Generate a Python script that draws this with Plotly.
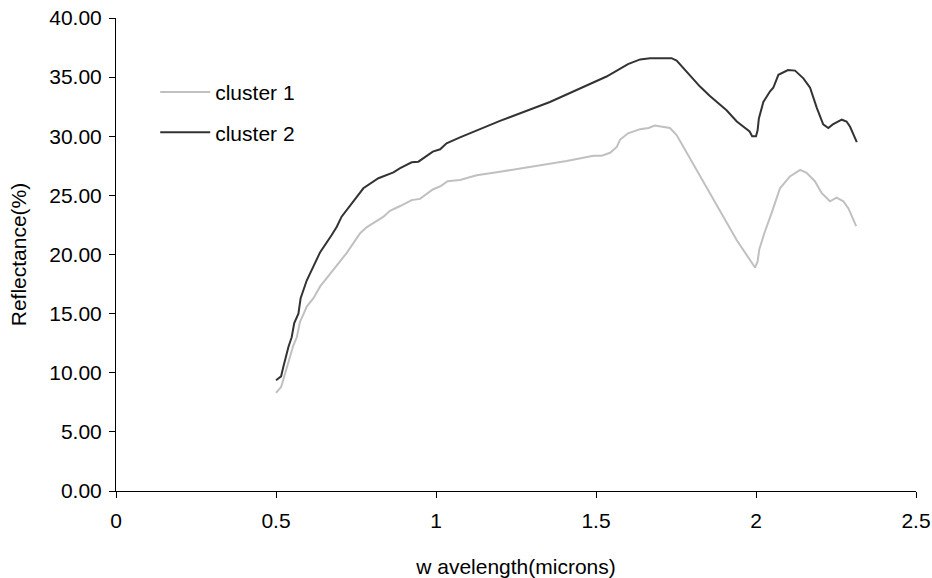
import plotly.graph_objects as go

# wavelength (microns) and reflectance (%)
c1_wl = [0.500, 0.516, 0.528, 0.542, 0.554, 0.565, 0.575, 0.585, 0.596, 0.617,
         0.638, 0.679, 0.720, 0.763, 0.783, 0.836, 0.856, 0.888, 0.924, 0.950,
         0.990, 1.016, 1.036, 1.075, 1.127, 1.200, 1.356, 1.408, 1.492, 1.518,
         1.544, 1.565, 1.575, 1.600, 1.638, 1.664, 1.684, 1.731, 1.752, 1.773,
         1.940, 1.997, 2.005, 2.010, 2.026, 2.050, 2.075, 2.106, 2.138, 2.158,
         2.184, 2.205, 2.231, 2.252, 2.273, 2.289, 2.313]
c1_refl = [8.3, 8.8, 9.9, 11.1, 12.3, 13.0, 14.3, 14.9, 15.6, 16.3,
           17.3, 18.7, 20.1, 21.8, 22.3, 23.2, 23.7, 24.1, 24.6, 24.7,
           25.5, 25.8, 26.2, 26.3, 26.7, 27.0, 27.7, 27.9, 28.35, 28.35,
           28.6, 29.1, 29.7, 30.25, 30.6, 30.7, 30.9, 30.7, 30.1, 29.1,
           21.2, 18.9, 19.4, 20.4, 21.8, 23.6, 25.6, 26.6, 27.15, 26.9,
           26.2, 25.2, 24.5, 24.8, 24.5, 23.9, 22.4]

c2_wl = [0.500, 0.516, 0.523, 0.539, 0.549, 0.557, 0.570, 0.577, 0.596, 0.617,
         0.638, 0.674, 0.690, 0.705, 0.742, 0.773, 0.820, 0.867, 0.888, 0.924,
         0.945, 0.990, 1.013, 1.033, 1.075, 1.200, 1.356, 1.429, 1.533, 1.600,
         1.638, 1.669, 1.736, 1.752, 1.825, 1.856, 1.908, 1.940, 1.980, 1.988,
         2.000, 2.005, 2.009, 2.023, 2.044, 2.054, 2.070, 2.100, 2.122, 2.148,
         2.169, 2.190, 2.210, 2.226, 2.240, 2.268, 2.283, 2.294, 2.315]
c2_refl = [9.37, 9.7, 10.5, 12.2, 13.0, 14.2, 15.0, 16.3, 17.8, 19.0,
           20.2, 21.65, 22.35, 23.2, 24.5, 25.6, 26.45, 26.95, 27.3, 27.8,
           27.85, 28.7, 28.9, 29.4, 29.9, 31.3, 32.9, 33.8, 35.05, 36.1,
           36.5, 36.6, 36.6, 36.4, 34.2, 33.4, 32.2, 31.25, 30.4, 30.0,
           30.0, 30.5, 31.5, 32.9, 33.8, 34.1, 35.2, 35.6, 35.55, 34.9,
           34.1, 32.4, 31.0, 30.7, 31.0, 31.4, 31.25, 30.8, 29.5]

x_ticks = [0, 0.5, 1, 1.5, 2, 2.5]
x_ticktext = ["0", "0.5", "1", "1.5", "2", "2.5"]
y_ticks = [0, 5, 10, 15, 20, 25, 30, 35, 40]
y_ticktext = ["0.00", "5.00", "10.00", "15.00", "20.00", "25.00", "30.00", "35.00", "40.00"]

FONT = "Liberation Sans, Arial, sans-serif"

fig = go.Figure()
fig.add_trace(go.Scatter(x=c1_wl, y=c1_refl, mode="lines", name="cluster 1",
                         legendgroup="g1",
                         line=dict(color="#c0c0c0", width=2)))
fig.add_trace(go.Scatter(x=c2_wl, y=c2_refl, mode="lines", name="cluster 2",
                         legendgroup="g2",
                         line=dict(color="#333333", width=2)))

fig.update_layout(
    width=932, height=578,
    margin=dict(l=116, r=16, t=18, b=87, autoexpand=False),
    paper_bgcolor="white", plot_bgcolor="white",
    font=dict(family=FONT, size=21, color="black"),
    showlegend=True,
    legend=dict(x=0.049, y=0.886, xanchor="left", yanchor="top",
                bgcolor="rgba(0,0,0,0)", tracegroupgap=10,
                font=dict(family=FONT, size=21, color="black"),
                itemwidth=50),
    xaxis=dict(range=[0, 2.5], tickmode="array", tickvals=x_ticks, ticktext=x_ticktext,
               showgrid=False, zeroline=False, showline=True, linecolor="#000000",
               linewidth=1, ticks="outside", ticklen=6, tickcolor="#000000",
               tickfont=dict(family=FONT, size=21), ticklabelstandoff=5,
               title=dict(text="w avelength(microns)", standoff=28,
                          font=dict(family=FONT, size=21)),
               automargin=False),
    yaxis=dict(range=[0, 40], tickmode="array", tickvals=y_ticks, ticktext=y_ticktext,
               showgrid=False, zeroline=False, showline=True, linecolor="#000000",
               linewidth=1, ticks="outside", ticklen=6, tickcolor="#000000",
               tickfont=dict(family=FONT, size=21), ticklabelstandoff=3,
               title=dict(text="Reflectance(%)", standoff=16,
                          font=dict(family=FONT, size=21)),
               automargin=False),
)

fig.write_html("out.html")
